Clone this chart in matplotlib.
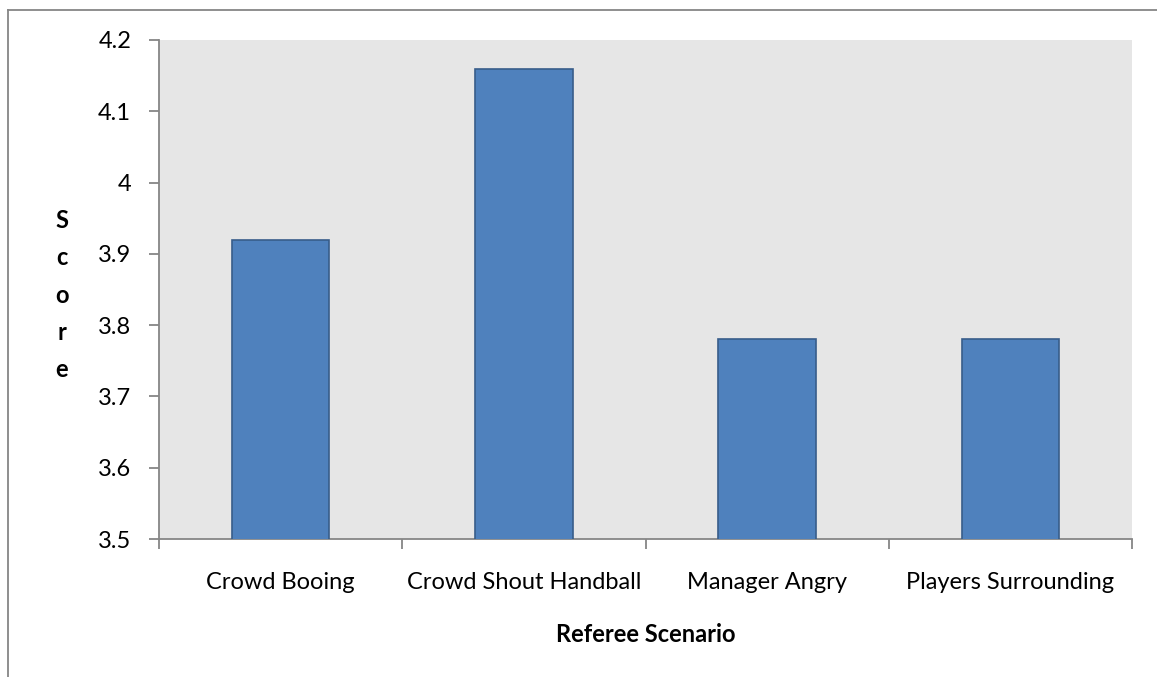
import matplotlib
matplotlib.use("Agg")
import matplotlib.pyplot as plt
from matplotlib.lines import Line2D

categories = ["Crowd Booing", "Crowd Shout Handball", "Manager Angry", "Players Surrounding"]
scores = [3.92, 4.16, 3.78, 3.78]
yticks = [3.5, 3.6, 3.7, 3.8, 3.9, 4.0, 4.1, 4.2]
ytick_labels = ["3.5", "3.6", "3.7", "3.8", "3.9", "4", "4.1", "4.2"]

plt.rcParams['font.family'] = ['Lato', 'DejaVu Sans']
FS = 17

W, H = 1157, 677
fig = plt.figure(figsize=(W / 100, H / 100), dpi=100)
ax = fig.add_axes([159 / W, 1 - 539 / H, (1132 - 159) / W, (539 - 40) / H])
ax.set_facecolor("#E6E6E6")

x = list(range(len(categories)))
ax.bar(x, scores, width=0.40, bottom=0, color="#4F81BD", edgecolor="#385D8A", linewidth=1.2, zorder=3)
ax.set_xlim(-0.5, len(categories) - 0.5)
ax.set_ylim(3.5, 4.2)
ax.set_yticks(yticks)
ax.set_yticklabels(ytick_labels)
ax.set_xticks([i - 0.5 for i in range(len(categories) + 1)])
ax.set_xticklabels([])
ax.set_xticks(x, minor=True)
ax.set_xticklabels(categories, minor=True)
ax.tick_params(axis='x', which='minor', length=0, pad=24, labelsize=FS)
ax.tick_params(axis='x', which='major', length=7, width=1.3, color="#868686", direction='out')
ax.tick_params(axis='y', length=7, width=1.3, color="#868686", direction='out', pad=13, labelsize=FS)

for s in ['top', 'right']:
    ax.spines[s].set_visible(False)
for s in ['left', 'bottom']:
    ax.spines[s].set_color("#868686")
    ax.spines[s].set_linewidth(1.3)

ax.set_xlabel("Referee Scenario", fontsize=FS, fontweight='bold', labelpad=21)
fig.text(62 / W, 1 - 295 / H, "S\nc\no\nr\ne", ha='center', va='center',
         fontsize=FS, fontweight='bold', linespacing=1.75)

# outer chart border (left and top edges visible)
fig.add_artist(Line2D([8 / W, 8 / W], [0, 1 - 10 / H], transform=fig.transFigure, color="#868686", linewidth=1.3))
fig.add_artist(Line2D([8 / W, 1], [1 - 10 / H, 1 - 10 / H], transform=fig.transFigure, color="#868686", linewidth=1.3))

fig.savefig("out.png", dpi=100)
